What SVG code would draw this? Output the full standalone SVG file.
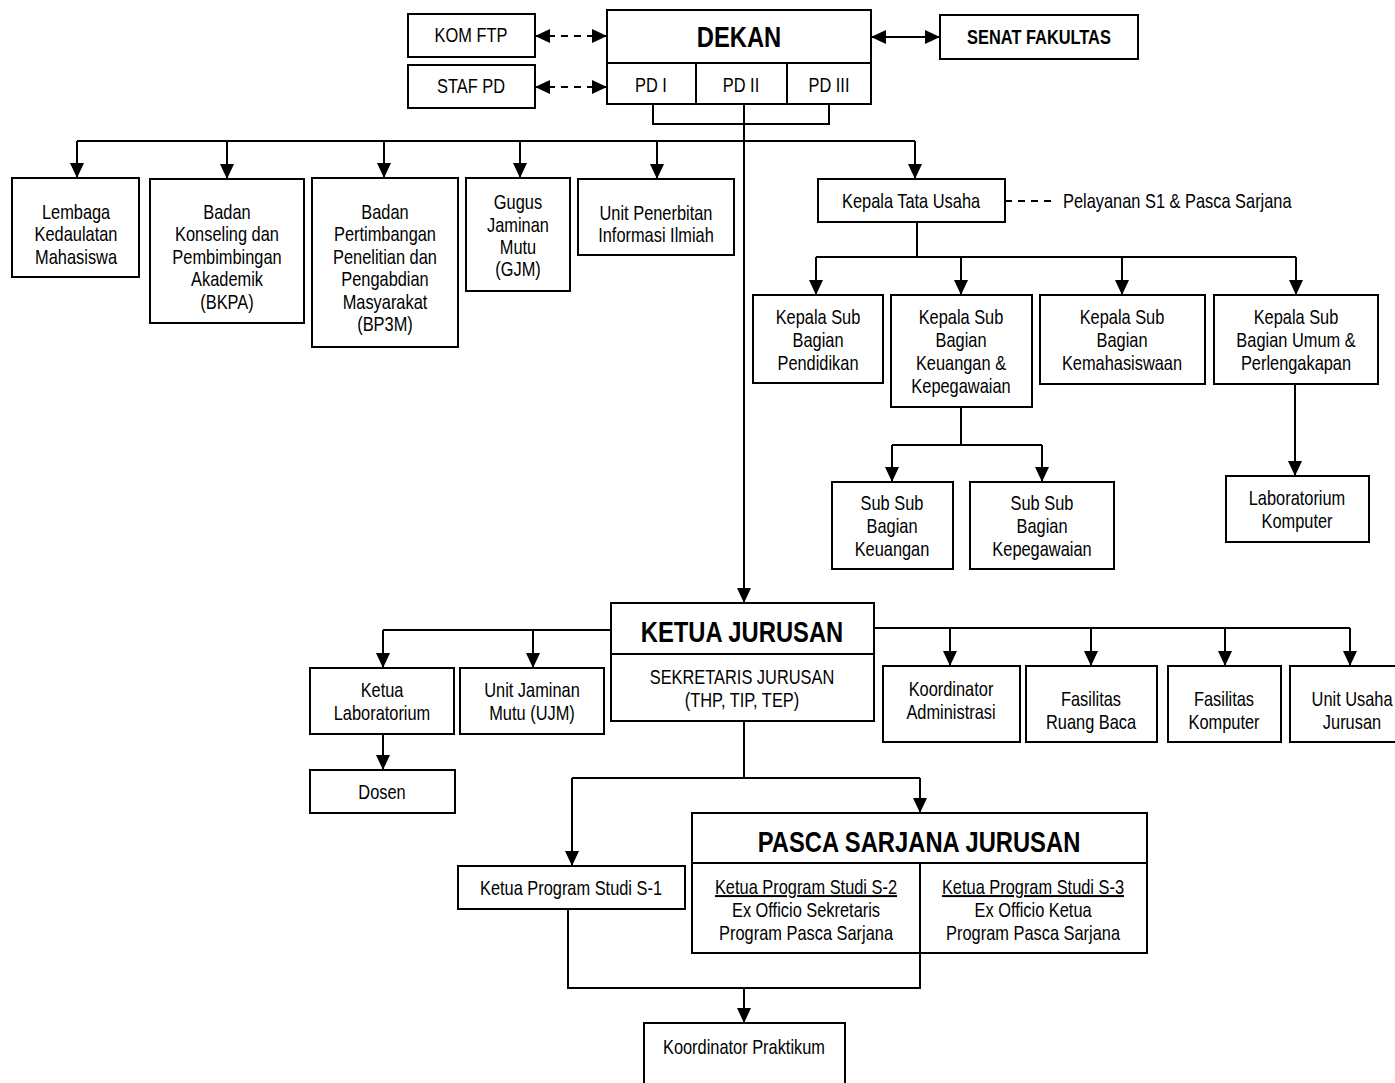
<svg xmlns="http://www.w3.org/2000/svg" width="1395" height="1083" viewBox="0 0 1395 1083">
<style>
text{font-family:'Liberation Sans',Arial,sans-serif;font-size:20px;fill:#000;text-anchor:middle;transform-box:fill-box;transform-origin:50% 50%;transform:scaleX(0.82)}
.s{text-anchor:start;transform-origin:0% 50%}
.b{font-weight:bold}
.t{font-size:29px;font-weight:bold}
.box{fill:#fff;stroke:#000;stroke-width:2}
.ln{fill:none;stroke:#000;stroke-width:2}
.c{fill:none;stroke:#000;stroke-width:2}
.a{marker-end:url(#ah)}
.d{stroke-dasharray:7,6}
.bi{marker-start:url(#ah);marker-end:url(#ah)}
</style>
<defs>
<marker id="ah" markerUnits="userSpaceOnUse" markerWidth="15" markerHeight="14" refX="15" refY="7" orient="auto-start-reverse" viewBox="0 0 15 14">
<path d="M0,0 L15,7 L0,14 z" fill="#000"/>
</marker>
</defs>
<rect width="1395" height="1083" fill="#fff"/>
<g id="connectors">
<line class="c d bi" x1="535" y1="36" x2="607" y2="36"/>
<line class="c d bi" x1="535" y1="87" x2="607" y2="87"/>
<line class="c bi" x1="871" y1="37" x2="940" y2="37"/>
<path class="c" d="M653,104 V124 H829 V104"/>
<path class="c a" d="M744,104 V603"/>
<path class="c" d="M77,141 H915"/>
<path class="c a" d="M77,141 V178"/>
<path class="c a" d="M227,141 V179"/>
<path class="c a" d="M384,141 V178"/>
<path class="c a" d="M520,141 V178"/>
<path class="c a" d="M657,141 V179"/>
<path class="c a" d="M915,141 V179"/>
<path class="c d" d="M1005,201 H1051"/>
<path class="c" d="M917,222 V257 M816,257 H1296"/>
<path class="c a" d="M816,257 V295"/>
<path class="c a" d="M961,257 V295"/>
<path class="c a" d="M1122,257 V295"/>
<path class="c a" d="M1296,257 V295"/>
<path class="c" d="M961,407 V445 M892,445 H1042"/>
<path class="c a" d="M892,445 V482"/>
<path class="c a" d="M1042,445 V482"/>
<path class="c a" d="M1295,384 V476"/>
<path class="c" d="M611,630 H383"/>
<path class="c a" d="M383,630 V668"/>
<path class="c a" d="M533,630 V668"/>
<path class="c a" d="M383,734 V770"/>
<path class="c" d="M874,628 H1350"/>
<path class="c a" d="M950,628 V666"/>
<path class="c a" d="M1091,628 V666"/>
<path class="c a" d="M1225,628 V666"/>
<path class="c a" d="M1350,628 V666"/>
<path class="c" d="M744,721 V778 M572,778 H920"/>
<path class="c a" d="M572,778 V866"/>
<path class="c a" d="M920,778 V813"/>
<path class="c" d="M568,909 V988 H920 V953"/>
<path class="c a" d="M744,988 V1023"/>
</g>
<g id="kom-ftp"><rect class="box" x="408" y="14" width="127" height="43"/><text x="471" y="42">KOM FTP</text></g>
<g id="staf-pd"><rect class="box" x="408" y="65" width="127" height="43"/><text x="471" y="93">STAF PD</text></g>
<g id="dekan"><rect class="box" x="607" y="10" width="264" height="94"/><path class="ln" d="M607,63 H871 M696,63 V104 M787,63 V104"/>
<text class="t" x="739" y="47">DEKAN</text><text x="651" y="92">PD I</text><text x="741" y="92">PD II</text><text x="829" y="92">PD III</text></g>
<g id="senat"><rect class="box" x="940" y="15" width="198" height="44"/><text class="b" x="1039" y="44">SENAT FAKULTAS</text></g>
<g id="lembaga"><rect class="box" x="12" y="178" width="127" height="99"/><text x="76" y="219">Lembaga</text><text x="76" y="241">Kedaulatan</text><text x="76" y="264">Mahasiswa</text></g>
<g id="bkpa"><rect class="box" x="150" y="179" width="154" height="144"/><text x="227" y="219">Badan</text><text x="227" y="241">Konseling dan</text><text x="227" y="264">Pembimbingan</text><text x="227" y="286">Akademik</text><text x="227" y="309">(BKPA)</text></g>
<g id="bp3m"><rect class="box" x="312" y="178" width="146" height="169"/><text x="385" y="219">Badan</text><text x="385" y="241">Pertimbangan</text><text x="385" y="264">Penelitian dan</text><text x="385" y="286">Pengabdian</text><text x="385" y="309">Masyarakat</text><text x="385" y="331">(BP3M)</text></g>
<g id="gjm"><rect class="box" x="466" y="178" width="104" height="113"/><text x="518" y="209">Gugus</text><text x="518" y="232">Jaminan</text><text x="518" y="254">Mutu</text><text x="518" y="276">(GJM)</text></g>
<g id="upii"><rect class="box" x="578" y="179" width="156" height="76"/><text x="656" y="220">Unit Penerbitan</text><text x="656" y="242">Informasi Ilmiah</text></g>
<g id="ktu"><rect class="box" x="818" y="179" width="187" height="43"/><text x="911" y="208">Kepala Tata Usaha</text></g>
<g id="pelayanan"><text class="s" x="1063" y="208">Pelayanan S1 &amp; Pasca Sarjana</text></g>
<g id="ksb-pendidikan"><rect class="box" x="753" y="295" width="130" height="88"/><text x="818" y="324">Kepala Sub</text><text x="818" y="347">Bagian</text><text x="818" y="370">Pendidikan</text></g>
<g id="ksb-keuangan"><rect class="box" x="891" y="295" width="141" height="112"/><text x="961" y="324">Kepala Sub</text><text x="961" y="347">Bagian</text><text x="961" y="370">Keuangan &amp;</text><text x="961" y="393">Kepegawaian</text></g>
<g id="ksb-kemahasiswaan"><rect class="box" x="1040" y="295" width="165" height="89"/><text x="1122" y="324">Kepala Sub</text><text x="1122" y="347">Bagian</text><text x="1122" y="370">Kemahasiswaan</text></g>
<g id="ksb-umum"><rect class="box" x="1214" y="295" width="164" height="89"/><text x="1296" y="324">Kepala Sub</text><text x="1296" y="347">Bagian Umum &amp;</text><text x="1296" y="370">Perlengakapan</text></g>
<g id="ssb-keuangan"><rect class="box" x="832" y="482" width="121" height="87"/><text x="892" y="510">Sub Sub</text><text x="892" y="533">Bagian</text><text x="892" y="556">Keuangan</text></g>
<g id="ssb-kepegawaian"><rect class="box" x="970" y="482" width="144" height="87"/><text x="1042" y="510">Sub Sub</text><text x="1042" y="533">Bagian</text><text x="1042" y="556">Kepegawaian</text></g>
<g id="lab-komputer"><rect class="box" x="1226" y="476" width="143" height="66"/><text x="1297" y="505">Laboratorium</text><text x="1297" y="528">Komputer</text></g>
<g id="ketua-jurusan"><rect class="box" x="611" y="603" width="263" height="118"/><path class="ln" d="M611,654 H874"/>
<text class="t" x="742" y="642">KETUA JURUSAN</text><text x="742" y="684">SEKRETARIS JURUSAN</text><text x="742" y="707">(THP, TIP, TEP)</text></g>
<g id="ketua-lab"><rect class="box" x="310" y="668" width="144" height="66"/><text x="382" y="697">Ketua</text><text x="382" y="720">Laboratorium</text></g>
<g id="ujm"><rect class="box" x="460" y="668" width="144" height="66"/><text x="532" y="697">Unit Jaminan</text><text x="532" y="720">Mutu (UJM)</text></g>
<g id="dosen"><rect class="box" x="310" y="770" width="145" height="43"/><text x="382" y="799">Dosen</text></g>
<g id="koord-adm"><rect class="box" x="883" y="666" width="137" height="76"/><text x="951" y="696">Koordinator</text><text x="951" y="719">Administrasi</text></g>
<g id="fas-rb"><rect class="box" x="1026" y="666" width="131" height="76"/><text x="1091" y="706">Fasilitas</text><text x="1091" y="729">Ruang Baca</text></g>
<g id="fas-komp"><rect class="box" x="1168" y="666" width="113" height="76"/><text x="1224" y="706">Fasilitas</text><text x="1224" y="729">Komputer</text></g>
<g id="unit-usaha"><rect class="box" x="1290" y="666" width="124" height="76"/><text x="1352" y="706">Unit Usaha</text><text x="1352" y="729">Jurusan</text></g>
<g id="kps-s1"><rect class="box" x="458" y="866" width="227" height="43"/><text x="571" y="895">Ketua Program Studi S-1</text></g>
<g id="pasca"><rect class="box" x="692" y="813" width="455" height="140"/><path class="ln" d="M692,863 H1147 M920,863 V953"/>
<text class="t" x="919" y="852">PASCA SARJANA JURUSAN</text>
<text x="806" y="894" text-decoration="underline">Ketua Program Studi S-2</text><text x="806" y="917">Ex Officio Sekretaris</text><text x="806" y="940">Program Pasca Sarjana</text>
<text x="1033" y="894" text-decoration="underline">Ketua Program Studi S-3</text><text x="1033" y="917">Ex Officio Ketua</text><text x="1033" y="940">Program Pasca Sarjana</text></g>
<g id="koord-praktikum"><rect class="box" x="644" y="1023" width="201" height="70"/><text x="744" y="1054">Koordinator Praktikum</text></g>
</svg>
